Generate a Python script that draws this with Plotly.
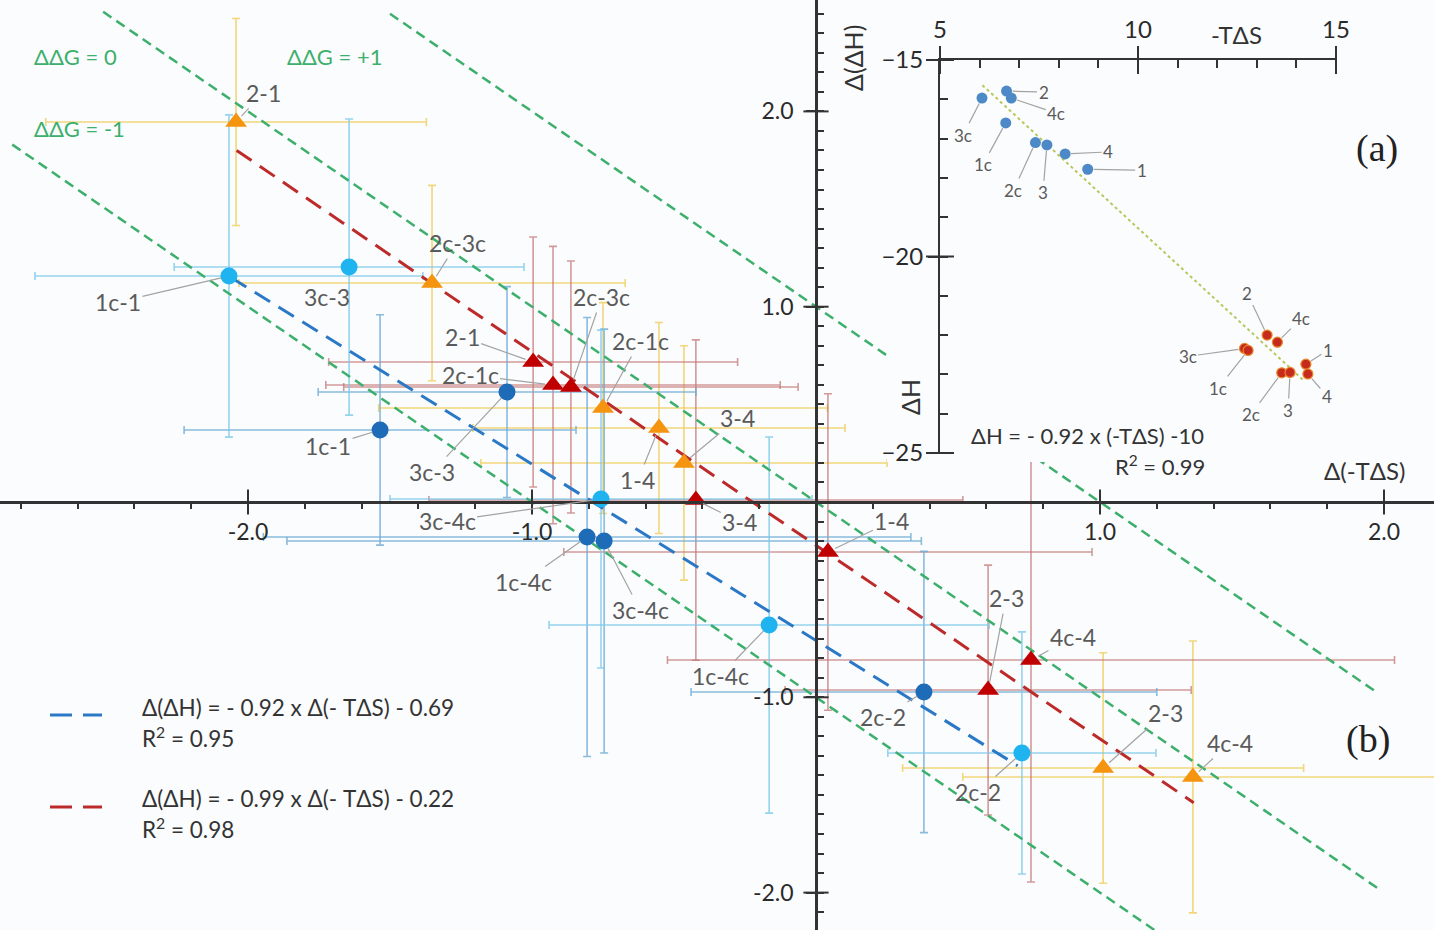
import plotly.graph_objects as go

W, H = 1434, 930
PAPER_BG = "#fbfcfc"
PLOT_BG = "#fbfcfd"

# ---------------- panel (b) data: Δ(-TΔS) (x), Δ(ΔH) (y) ----------------
orange_labels = ["2-1", "2c-3c", "2c-1c", "1-4", "3-4", "2-3", "4c-4"]
orange_x = [-2.042, -1.352, -0.750, -0.553, -0.465, 1.011, 1.327]
orange_y = [1.946, 1.121, 0.481, 0.379, 0.200, -1.362, -1.408]
orange_ex_minus = [0.67, 0.68, 0.79, 0.655, 0.715, 0.706, 0.81]
orange_ex_plus = [0.67, 0.68, 0.79, 0.655, 0.715, 0.706, 0.95]
orange_ey = [0.53, 0.50, 0.54, 0.54, 0.60, 0.59, 0.696]

red_labels = ["2-1", "2c-1c", "2c-3c", "3-4", "1-4", "2-3", "4c-4"]
red_x = [-0.996, -0.926, -0.863, -0.423, 0.042, 0.606, 0.757]
red_y = [0.717, 0.599, 0.589, 0.010, -0.256, -0.963, -0.809]
red_ex = [0.72, 0.80, 0.80, 0.94, 0.93, 0.715, 1.28]
red_ey = [0.64, 0.71, 0.645, 0.82, 0.81, 0.64, 1.137]

darkblue_labels = ["1c-1", "3c-3", "1c-4c", "3c-4c", "2c-2"]
darkblue_x = [-1.535, -1.088, -0.806, -0.746, 0.380]
darkblue_y = [0.369, 0.563, -0.179, -0.200, -0.973]
darkblue_ex = [0.69, 0.665, 1.14, 1.117, 0.82]
darkblue_ey = [0.59, 0.54, 1.124, 1.085, 0.72]

lightblue_labels = ["1c-1", "3c-3", "3c-4c", "1c-4c", "2c-2"]
lightblue_x = [-2.067, -1.644, -0.757, -0.165, 0.725]
lightblue_y = [1.157, 1.203, 0.015, -0.630, -1.285]
lightblue_ex = [0.683, 0.616, 0.743, 0.775, 0.472]
lightblue_ey = [0.825, 0.758, 0.865, 0.963, 0.62]

# fitted lines (end points)
blue_fit_x = [-2.06, 0.71]
blue_fit_y = [1.15, -1.35]
red_fit_x = [-2.04, 1.33]
red_fit_y = [1.80, -1.54]
blue_fit_text = ["Δ(ΔH) = - 0.92 x Δ(- TΔS) - 0.69", "R<sup>2</sup> = 0.95"]
red_fit_text = ["Δ(ΔH) = - 0.99 x Δ(- TΔS) - 0.22", "R<sup>2</sup> = 0.98"]

# iso-ΔΔG lines: Δ(ΔH) = ΔΔG - Δ(-TΔS)
ddg_values = [0, 1, -1]
ddg_x_start = [-2.51, -1.50, -2.83]
ddg_x_end = [1.98, 1.98, 1.30]
ddg_texts = ["ΔΔG = 0", "ΔΔG = +1", "ΔΔG = -1"]

main_tick_vals = [-2, -1, 1, 2]
main_tick_text = ["-2.0", "-1.0", "1.0", "2.0"]

# ---------------- panel (a) data: -TΔS (x), ΔH (y) ----------------
inset_blue_labels = ["3c", "2", "4c", "1c", "2c", "3", "4", "1"]
inset_blue_x = [6.06, 6.68, 6.80, 6.66, 7.41, 7.70, 8.16, 8.73]
inset_blue_y = [-15.97, -15.79, -15.97, -16.60, -17.10, -17.16, -17.39, -17.78]
inset_red_labels = ["2", "4c", "3c", "1c", "1", "4", "2c", "3"]
inset_red_x = [13.26, 13.52, 12.69, 12.78, 14.24, 14.29, 13.63, 13.84]
inset_red_y = [-22.00, -22.18, -22.34, -22.39, -22.74, -22.99, -22.96, -22.95]
inset_fit_x = [6.07, 14.17]
inset_fit_y = [-15.64, -23.14]
inset_x_ticks = [5, 10, 15]
inset_y_ticks = [-25, -20, -15]

# ---------------- layout helpers ----------------
X0_PX, X_SCALE = 816, 284.0
Y0_PX, Y_SCALE = 502, 195.3
x_range = [-X0_PX / X_SCALE, (W - X0_PX) / X_SCALE]
y_range = [-(H - Y0_PX) / Y_SCALE, Y0_PX / Y_SCALE]


def px(xp, yp):
    return xp / W, 1 - yp / H


FONT = "Lato, 'Open Sans', sans-serif"
SERIF = "'Liberation Serif', 'DejaVu Serif', serif"
LABEL_COLOR = "#5a5a5a"
AXIS_COLOR = "#333333"
GREEN = "#3daf6c"
ORANGE = "#f5950f"
RED = "#c00000"
DBLUE = "#1e6bb8"
LBLUE = "#1fb4f0"
BLUE_FIT = "#2a78c6"
RED_FIT = "#bd2a2a"

fig = go.Figure()


def err_trace(x, y, ex_plus, ex_minus, ey, color):
    return go.Scatter(
        x=x, y=y, mode="markers",
        marker=dict(color="rgba(0,0,0,0)", size=2),
        error_x=dict(type="data", symmetric=False, array=ex_plus, arrayminus=ex_minus,
                     color=color, thickness=1.6, width=4),
        error_y=dict(type="data", array=ey, color=color, thickness=1.6, width=4),
        hoverinfo="skip", showlegend=False)


# error bars (beneath everything)
fig.add_trace(err_trace(orange_x, orange_y, orange_ex_plus, orange_ex_minus, orange_ey,
                        "rgba(240,208,100,0.85)"))
fig.add_trace(err_trace(red_x, red_y, red_ex, red_ex, red_ey, "rgba(196,120,120,0.75)"))
fig.add_trace(err_trace(darkblue_x, darkblue_y, darkblue_ex, darkblue_ex, darkblue_ey,
                        "rgba(110,170,212,0.8)"))
fig.add_trace(err_trace(lightblue_x, lightblue_y, lightblue_ex, lightblue_ex, lightblue_ey,
                        "rgba(125,200,235,0.8)"))

# iso-ΔΔG lines
for g, xs, xe in zip(ddg_values, ddg_x_start, ddg_x_end):
    fig.add_trace(go.Scatter(x=[xs, xe], y=[g - xs, g - xe], mode="lines",
                             line=dict(color=GREEN, width=2.5, dash="10px,6px"),
                             hoverinfo="skip", showlegend=False))

# fit lines
fig.add_trace(go.Scatter(x=blue_fit_x, y=blue_fit_y, mode="lines",
                         line=dict(color=BLUE_FIT, width=3, dash="18px,10px"),
                         hoverinfo="skip", showlegend=False))
fig.add_trace(go.Scatter(x=red_fit_x, y=red_fit_y, mode="lines",
                         line=dict(color=RED_FIT, width=3, dash="18px,10px"),
                         hoverinfo="skip", showlegend=False))

# markers
fig.add_trace(go.Scatter(x=orange_x, y=orange_y, mode="markers", text=orange_labels,
                         marker=dict(symbol="triangle-up", size=19, color=ORANGE),
                         showlegend=False))
fig.add_trace(go.Scatter(x=red_x, y=red_y, mode="markers", text=red_labels,
                         marker=dict(symbol="triangle-up", size=19, color=RED),
                         showlegend=False))
fig.add_trace(go.Scatter(x=darkblue_x, y=darkblue_y, mode="markers", text=darkblue_labels,
                         marker=dict(symbol="circle", size=17, color=DBLUE),
                         showlegend=False))
fig.add_trace(go.Scatter(x=lightblue_x, y=lightblue_y, mode="markers", text=lightblue_labels,
                         marker=dict(symbol="circle", size=17, color=LBLUE),
                         showlegend=False))

# crossing major ticks on the main axes
fig.add_trace(go.Scatter(x=main_tick_vals, y=[0] * 4, mode="markers", cliponaxis=False,
                         marker=dict(symbol="line-ns", size=18, line=dict(color=AXIS_COLOR, width=2)),
                         hoverinfo="skip", showlegend=False))
fig.add_trace(go.Scatter(x=[0] * 4, y=main_tick_vals, mode="markers", cliponaxis=False,
                         marker=dict(symbol="line-ew", size=18, line=dict(color=AXIS_COLOR, width=2)),
                         hoverinfo="skip", showlegend=False))

# mask subplot: plain area behind the inset
fig.add_trace(go.Scatter(x=[0], y=[0], xaxis="x2", yaxis="y2", mode="markers",
                         marker=dict(color="rgba(0,0,0,0)", size=1),
                         hoverinfo="skip", showlegend=False))

# ---------------- inset traces ----------------
fig.add_trace(go.Scatter(x=inset_fit_x, y=inset_fit_y, xaxis="x3", yaxis="y3", mode="lines",
                         line=dict(color="#b8c65a", width=2, dash="dot"),
                         hoverinfo="skip", showlegend=False))
fig.add_trace(go.Scatter(x=inset_blue_x, y=inset_blue_y, xaxis="x3", yaxis="y3", mode="markers",
                         text=inset_blue_labels,
                         marker=dict(size=11, color="#4d88c7"), showlegend=False))
fig.add_trace(go.Scatter(x=inset_red_x, y=inset_red_y, xaxis="x3", yaxis="y3", mode="markers",
                         text=inset_red_labels,
                         marker=dict(size=10, color="#c62a1c", line=dict(color="#e8862a", width=1.2)),
                         showlegend=False))
fig.add_trace(go.Scatter(x=inset_x_ticks, y=[-15] * 3, xaxis="x3", yaxis="y3", mode="markers",
                         cliponaxis=False,
                         marker=dict(symbol="line-ns", size=20, line=dict(color=AXIS_COLOR, width=2)),
                         hoverinfo="skip", showlegend=False))
fig.add_trace(go.Scatter(x=[5] * 3, y=inset_y_ticks, xaxis="x3", yaxis="y3", mode="markers",
                         cliponaxis=False,
                         marker=dict(symbol="line-ew", size=20, line=dict(color=AXIS_COLOR, width=2)),
                         hoverinfo="skip", showlegend=False))

# ---------------- annotations ----------------
ann = []

main_offsets = {
    "orange": {"2-1": (27, -29), "2c-3c": (25, -40), "2c-1c": (37, -67), "1-4": (-21, 52),
               "3-4": (54, -45), "2-3": (62, -55), "4c-4": (37, -34)},
    "red": {"2-1": (-71, -25), "2c-1c": (-83, -10), "2c-3c": (31, -90), "3-4": (44, 22),
            "1-4": (64, -31), "2-3": (18, -92), "4c-4": (42, -23)},
    "darkblue": {"1c-1": (-52, 16), "3c-3": (-75, 80), "1c-4c": (-64, 45), "3c-4c": (36, 69),
                 "2c-2": (-41, 25)},
    "lightblue": {"1c-1": (-111, 26), "3c-3": None, "3c-4c": (-154, 22), "1c-4c": (-49, 51),
                  "2c-2": (-44, 39)},
}
series = {
    "orange": (orange_labels, orange_x, orange_y),
    "red": (red_labels, red_x, red_y),
    "darkblue": (darkblue_labels, darkblue_x, darkblue_y),
    "lightblue": (lightblue_labels, lightblue_x, lightblue_y),
}
for name, (labs, xs, ys) in series.items():
    for lab, xv, yv in zip(labs, xs, ys):
        off = main_offsets[name][lab]
        if off is None:
            ann.append(dict(x=xv, y=yv, xref="x", yref="y", text=lab, showarrow=False,
                            xshift=-22, yshift=-30,
                            font=dict(family=FONT, size=23, color=LABEL_COLOR)))
        else:
            ann.append(dict(x=xv, y=yv, xref="x", yref="y", text=lab, showarrow=True,
                            ax=off[0], ay=off[1], arrowhead=0, arrowwidth=1.2,
                            arrowcolor="#a3a3a3", standoff=8,
                            font=dict(family=FONT, size=23, color=LABEL_COLOR)))

inset_offsets = {
    "blue": {"3c": (-19, 37), "2": (37, 1), "4c": (45, 15), "1c": (-23, 42), "2c": (-22, 48),
             "3": (-4, 48), "4": (43, -2), "1": (54, 1)},
    "red": {"2": (-20, -42), "4c": (24, -24), "3c": (-57, 8), "1c": (-30, 38), "1": (22, -14),
            "4": (19, 22), "2c": (-31, 42), "3": (-2, 38)},
}
for name, (labs, xs, ys) in {"blue": (inset_blue_labels, inset_blue_x, inset_blue_y),
                             "red": (inset_red_labels, inset_red_x, inset_red_y)}.items():
    for lab, xv, yv in zip(labs, xs, ys):
        off = inset_offsets[name][lab]
        ann.append(dict(x=xv, y=yv, xref="x3", yref="y3", text=lab, showarrow=True,
                        ax=off[0], ay=off[1], arrowhead=0, arrowwidth=1.2,
                        arrowcolor="#a3a3a3", standoff=6,
                        font=dict(family=FONT, size=17, color=LABEL_COLOR)))


def text_at(xp, yp, text, size=20, color="#333", family=FONT, xanchor="center",
            angle=0):
    xf, yf = px(xp, yp)
    return dict(x=xf, y=yf, xref="paper", yref="paper", text=text, showarrow=False,
                xanchor=xanchor, yanchor="middle", textangle=angle,
                font=dict(family=family, size=size, color=color))


# ΔΔG labels
ann.append(text_at(32, 57, ddg_texts[0], size=22, color=GREEN, xanchor="left"))
ann.append(text_at(285, 57, ddg_texts[1], size=22, color=GREEN, xanchor="left"))
ann.append(text_at(32, 128, ddg_texts[2], size=22, color=GREEN, xanchor="left"))

# legend of fitted lines
ann.append(text_at(140, 707, blue_fit_text[0], size=22.5, xanchor="left"))
ann.append(text_at(140, 737, blue_fit_text[1], size=22.5, xanchor="left"))
ann.append(text_at(140, 798, red_fit_text[0], size=22.5, xanchor="left"))
ann.append(text_at(140, 828, red_fit_text[1], size=22.5, xanchor="left"))

# inset texts
ann.append(text_at(853, 58, "Δ(ΔH)", size=25, angle=-90))
ann.append(text_at(910, 397, "ΔH", size=25, angle=-90))
ann.append(text_at(1236, 35, "-TΔS", size=24))
ann.append(text_at(1364, 470, "Δ(-TΔS)", size=24))
ann.append(text_at(1087, 436, "ΔH = - 0.92 x (-TΔS) -10", size=22))
ann.append(text_at(1207, 465, "R<sup>2</sup> = 0.99", size=22, xanchor="right"))
ann.append(text_at(1377, 148, "(a)", size=38, color="#222", family=SERIF))
ann.append(text_at(1368, 739, "(b)", size=38, color="#222", family=SERIF))

# legend line samples
shapes = []
for yp, col in [(715, BLUE_FIT), (807, RED_FIT)]:
    for x0, x1 in [(50, 72), (83, 102)]:
        a0 = px(x0, yp)
        a1 = px(x1, yp)
        shapes.append(dict(type="line", xref="paper", yref="paper", x0=a0[0], y0=a0[1],
                           x1=a1[0], y1=a1[1], line=dict(color=col, width=3)))

tickfont_main = dict(family=FONT, size=23, color="#2a2a2a")
tickfont_inset = dict(family=FONT, size=24, color="#2a2a2a")

fig.update_layout(
    width=W, height=H, autosize=False,
    margin=dict(l=0, r=0, t=0, b=0, pad=0, autoexpand=False),
    paper_bgcolor=PAPER_BG, plot_bgcolor=PLOT_BG,
    showlegend=False,
    annotations=ann, shapes=shapes,
    xaxis=dict(domain=[0, 1], range=x_range, anchor="free", position=1 - Y0_PX / H,
               showline=True, linecolor=AXIS_COLOR, linewidth=2.5, showgrid=False, zeroline=False,
               tickmode="array", tickvals=main_tick_vals, ticktext=main_tick_text,
               ticks="outside", ticklen=9, tickwidth=2, tickcolor=AXIS_COLOR,
               tickfont=tickfont_main, automargin=False,
               minor=dict(tick0=0, dtick=0.2, ticks="outside", ticklen=5, tickwidth=1.5,
                          tickcolor=AXIS_COLOR, showgrid=False)),
    yaxis=dict(domain=[0, 1], range=y_range, anchor="free", position=X0_PX / W,
               showline=True, linecolor=AXIS_COLOR, linewidth=2.5, showgrid=False, zeroline=False,
               tickmode="array", tickvals=main_tick_vals, ticktext=main_tick_text,
               ticks="outside", ticklen=9, tickwidth=2, tickcolor=AXIS_COLOR,
               tickfont=tickfont_main, ticklabelstandoff=8, automargin=False,
               minor=dict(tick0=0, dtick=0.1, ticks="inside", ticklen=6, tickwidth=1.5,
                          tickcolor=AXIS_COLOR, showgrid=False)),
    xaxis2=dict(domain=[887 / W, 1], range=[0, 1], anchor="y2", showline=False, showgrid=False,
                zeroline=False, showticklabels=False, ticks="", automargin=False),
    yaxis2=dict(domain=[1 - 462 / H, 1], range=[0, 1], anchor="x2", showline=False,
                showgrid=False, zeroline=False, showticklabels=False, ticks="", automargin=False),
    xaxis3=dict(domain=[940 / W, 1336 / W], range=[5, 15], anchor="y3", side="top",
                showline=True, linecolor=AXIS_COLOR, linewidth=2, showgrid=False, zeroline=False,
                tickmode="array", tickvals=inset_x_ticks, ticks="outside", ticklen=10,
                tickwidth=2, tickcolor=AXIS_COLOR, tickfont=tickfont_inset, automargin=False,
                minor=dict(tick0=5, dtick=1, ticks="inside", ticklen=8, tickwidth=1.5,
                           tickcolor=AXIS_COLOR, showgrid=False)),
    yaxis3=dict(domain=[1 - 453 / H, 1 - 60 / H], range=[-25, -15], anchor="x3", side="left",
                showline=True, linecolor=AXIS_COLOR, linewidth=2, showgrid=False, zeroline=False,
                tickmode="array", tickvals=inset_y_ticks, ticks="outside", ticklen=10,
                tickwidth=2, tickcolor=AXIS_COLOR, tickfont=tickfont_inset, automargin=False,
                minor=dict(tick0=-25, dtick=1, ticks="inside", ticklen=8, tickwidth=1.5,
                           tickcolor=AXIS_COLOR, showgrid=False)),
)

fig.write_html("out.html", config={"displayModeBar": False},
               post_script="document.body.style.margin='0';")
